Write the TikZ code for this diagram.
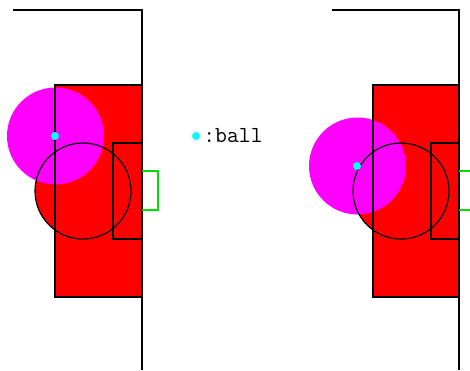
\documentclass[tikz,border=0pt]{standalone}
\usepackage{fontspec}
\usetikzlibrary{positioning}
\definecolor{boxred}{HTML}{FF0000}
\definecolor{zonemag}{HTML}{FF00FF}
\definecolor{ballcyan}{HTML}{00FFFF}
\definecolor{goalgreen}{HTML}{00E000}
\tikzset{
  pline/.style  ={draw=black, line width=1.2pt},
  penfill/.style={fill=boxred},
  zone/.style   ={fill=zonemag},
  goalbox/.style={draw=goalgreen, line width=1.1pt},
  ballpt/.style ={circle, fill=ballcyan, minimum size=8pt, inner sep=0pt},
  keytext/.style={font=\ttfamily\fontsize{23}{27}\selectfont, inner sep=0pt, anchor=west}
}
\begin{document}
\begin{tikzpicture}[x=1pt,y=-1pt]
  \useasboundingbox (0,0) rectangle (470,370);
  % --- left half: ball high, at the box line
  \fill[penfill] (55,85) rectangle (142,297);
  \fill[penfill] (83,191) circle (48);
  \fill[zone] (55.5,136) circle (48.5);
  \draw[pline] (55,85) rectangle (142,297);
  \draw[pline] (83,191) circle (48);
  \draw[pline] (113,143) rectangle (142,239);
  \draw[pline] (13,10) -- (142,10) -- (142,370);
  \draw[goalbox] (142,171) -- (158,171) -- (158,210) -- (142,210);
  \node[ballpt] (ballL) at (55,136) {};
  % --- right half: ball lower, outside the box
  \fill[penfill] (373,85) rectangle (459,297);
  \fill[penfill] (401,191) circle (48);
  \fill[zone] (357.5,166) circle (48.5);
  \draw[pline] (373,85) rectangle (459,297);
  \draw[pline] (401,191) circle (48);
  \draw[pline] (431,143) rectangle (459,239);
  \draw[pline] (332,10) -- (459,10) -- (459,370);
  \draw[goalbox] (459,171) -- (476,171) -- (476,210) -- (459,210);
  \node[ballpt] (ballR) at (357,166) {};
  % --- key
  \node[ballpt] (key) at (196,136) {};
  \node[keytext, right=3pt of key] (keytxt) {:ball};
\end{tikzpicture}
\end{document}
